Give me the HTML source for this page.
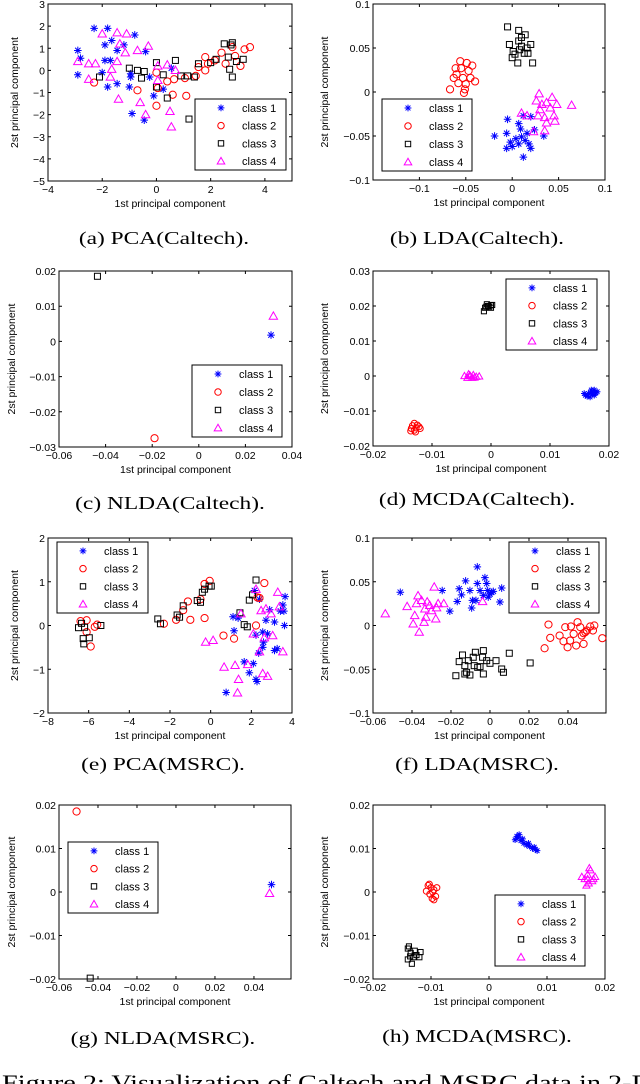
<!DOCTYPE html>
<html><head><meta charset="utf-8">
<style>
html,body{margin:0;padding:0;background:#fff;}
svg{display:block;}
</style></head>
<body>
<svg id="fig" width="640" height="1084" viewBox="0 0 640 1084" xmlns="http://www.w3.org/2000/svg" font-family="Liberation Sans, sans-serif">
<rect width="640" height="1084" fill="#fff"/>
<text x="2" y="1090" font-family="Liberation Serif, serif" font-size="22" textLength="650" lengthAdjust="spacingAndGlyphs">Figure 2: Visualization of Caltech and MSRC data in 2-D</text>
</svg>
<script>
// ---------- data ----------
const classNames = ["class 1","class 2","class 3","class 4"];
const classColors = ["#0000ff","#ff0000","#000000","#ff00ff"];
const classMarkers = ["star","circle","square","triangle"];

const pcaCaltechClass1 = [[-2.3,1.9],[-1.8,1.9],[-2.9,0.9],[-2.8,0.55],[-2.9,-0.2],[-1.9,1.15],[-1.65,1.35],[-1.45,0.9],[-1.2,1.15],[-0.8,1.6],[-1.9,0.45],[-1.7,0.45],[-2.0,-0.1],[-1.8,-0.75],[-1.45,-0.6],[-0.95,-0.15],[-0.95,-0.3],[-1.0,-0.75],[-0.9,-1.95],[-0.45,-2.25],[-0.4,0.85],[-0.25,-0.3],[-0.1,-1.15],[0.25,-0.85],[0.55,0.1]];
const pcaCaltechClass2 = [[-2.3,-0.55],[-0.7,-0.9],[0,-1.6],[0,-0.1],[0.4,-0.5],[0.6,-1.1],[0.65,-0.4],[1.1,-1.15],[1.05,-0.35],[1.45,-0.25],[1.55,0.15],[1.8,0.6],[1.9,0.3],[2.15,0.45],[2.4,0.8],[2.55,0.3],[2.9,0.65],[3.1,0.2],[3.25,0.95],[3.45,1.05],[2.8,1.05],[1.8,0],[0.05,-0.8]];
const pcaCaltechClass3 = [[-2.1,-0.3],[-1.0,0.1],[-0.7,0],[-0.45,-0.05],[0,0.35],[0,-0.75],[0.25,-0.2],[0.4,-1.25],[0.7,0.45],[0.9,-0.25],[1.15,-0.25],[1.4,-0.3],[1.2,-2.2],[1.55,0.3],[2.0,0.35],[2.2,0.5],[2.5,1.2],[2.75,1.15],[2.8,1.25],[2.65,0.6],[2.7,0.05],[2.8,-0.3],[2.95,0.4],[3.2,0.5],[-0.55,-0.35]];
const pcaCaltechClass4 = [[-2.9,0.4],[-2.5,0.3],[-2.25,0.3],[-2.5,-0.4],[-2.0,1.65],[-1.45,1.7],[-1.1,1.65],[-1.35,1.2],[-1.15,0.8],[-1.45,0.4],[-1.65,0.05],[-1.7,-0.3],[-1.4,-1.3],[-0.7,0.9],[-0.3,1.1],[-0.6,-1.45],[-0.4,-2.0],[0.05,0.2],[0.05,-0.45],[0.4,0.25],[0.5,-1.85],[0.55,-2.55],[0.7,0]];

const ldaCaltechClass1 = [[-0.019,-0.05],[-0.005,-0.031],[0.007,-0.036],[0.012,-0.027],[0.02,-0.028],[0.024,-0.043],[0.034,-0.05],[-0.006,-0.047],[-0.002,-0.057],[0.0,-0.062],[0.007,-0.059],[0.01,-0.051],[0.014,-0.055],[0.018,-0.059],[0.02,-0.064],[0.012,-0.074],[0.009,-0.042],[0.004,-0.053],[0.016,-0.047],[-0.006,-0.064]];
const ldaCaltechClass2 = [[-0.067,0.003],[-0.061,0.027],[-0.056,0.035],[-0.049,0.033],[-0.06,0.02],[-0.053,0.016],[-0.047,0.024],[-0.04,0.012],[-0.051,0.003],[-0.052,-0.001],[-0.058,0.01],[-0.045,0.016],[-0.055,0.027],[-0.063,0.016],[-0.043,0.03],[-0.05,0.009]];
const ldaCaltechClass3 = [[-0.005,0.074],[0.007,0.07],[0.014,0.065],[-0.003,0.054],[0.001,0.046],[0.007,0.058],[0.01,0.052],[0.016,0.05],[0.02,0.054],[0.0,0.039],[0.006,0.033],[0.022,0.033],[0.013,0.044],[0.008,0.048],[0.003,0.043],[0.017,0.044],[0.01,0.062]];
const ldaCaltechClass4 = [[0.029,-0.002],[0.026,-0.01],[0.032,-0.014],[0.037,-0.012],[0.043,-0.006],[0.048,-0.014],[0.064,-0.015],[0.01,-0.024],[0.016,-0.027],[0.028,-0.027],[0.035,-0.029],[0.045,-0.027],[0.046,-0.033],[0.037,-0.035],[0.023,-0.045],[0.035,-0.044],[0.03,-0.02],[0.041,-0.018]];

const nldaCaltechClass1 = [[0.031,0.0018]];
const nldaCaltechClass2 = [[-0.019,-0.0275]];
const nldaCaltechClass3 = [[-0.0435,0.0185]];
const nldaCaltechClass4 = [[0.032,0.0072]];

const mcdaCaltechClass1 = [[0.016,-0.0055],[0.0165,-0.005],[0.017,-0.0045],[0.0175,-0.004],[0.018,-0.0045],[0.0168,-0.006],[0.0172,-0.0052],[0.0163,-0.0058],[0.0178,-0.0048],[0.017,-0.004],[0.0158,-0.005],[0.0175,-0.0055]];
const mcdaCaltechClass2 = [[-0.013,-0.0135],[-0.0125,-0.014],[-0.0135,-0.015],[-0.012,-0.015],[-0.013,-0.0155],[-0.0128,-0.016],[-0.0122,-0.0145],[-0.0133,-0.0142],[-0.0127,-0.0148],[-0.0136,-0.0157]];
const mcdaCaltechClass3 = [[-0.001,0.0195],[-0.0005,0.02],[0,0.0202],[-0.0007,0.0205],[-0.0012,0.0185],[0,0.0195],[-0.0003,0.0198],[-0.0008,0.0198],[0.0002,0.0203]];
const mcdaCaltechClass4 = [[-0.004,-0.0005],[-0.0035,0],[-0.003,0.0003],[-0.0025,-0.0002],[-0.0038,0.0005],[-0.0032,-0.0005],[-0.0045,0],[-0.002,-0.0001],[-0.0028,-0.0004],[-0.0036,0.0002]];

const pcaMsrcClass1 = [[0.76,-1.53],[1.1,0.2],[1.15,-0.12],[1.35,0.17],[1.65,-0.83],[2.1,-0.87],[1.9,-1.08],[2.23,-1.23],[2.28,-1.28],[2.15,0.8],[2.4,0.6],[2.23,-0.22],[2.56,-0.15],[2.72,0.12],[2.8,-0.19],[2.6,-0.38],[2.56,-0.5],[2.36,-0.63],[2.9,0.36],[3.14,0.08],[3.27,-0.53],[3.43,0.33],[3.6,0.33],[3.55,0.47],[3.66,0.66],[3.63,0],[3.14,-0.57]];
const pcaMsrcClass2 = [[-6.4,0.1],[-6.1,0.12],[-6.1,-0.15],[-5.9,-0.48],[-5.7,-0.03],[-5.58,0.02],[-2.3,0.04],[-1.7,0.13],[-1.35,0.35],[-1.12,0.55],[-1.0,0.13],[-0.3,0.17],[-0.5,0.6],[-0.3,0.95],[-0.05,1.02],[0.63,-0.23],[1.15,-0.3],[2.23,0],[2.64,0.97],[2.3,0.64],[2.4,0.63]];
const pcaMsrcClass3 = [[-6.35,0.05],[-6.5,-0.05],[-6.2,-0.04],[-6.27,-0.3],[-5.97,-0.28],[-6.24,-0.42],[-5.4,0],[-2.6,0.15],[-2.47,0.04],[-1.65,0.24],[-1.53,0.19],[-1.35,0.45],[-0.66,0.57],[-0.5,0.53],[-0.41,0.76],[-0.3,0.83],[-0.08,0.9],[0.03,0.9],[2.23,1.04],[1.9,0.58],[2.06,0.7],[1.44,0.29],[1.65,0.02],[1.8,-0.03]];
const pcaMsrcClass4 = [[-0.25,-0.38],[0.12,-0.34],[0.66,-0.95],[1.2,-0.91],[1.37,-1.23],[1.32,-1.54],[1.82,-0.89],[1.49,0.27],[2.1,-0.19],[2.4,-0.6],[2.56,-1.1],[2.8,-1.16],[2.48,0.34],[2.72,0.38],[2.97,0.27],[3.05,-0.23],[3.3,0.76],[3.55,-0.6],[3.38,0.43],[2.64,-0.28],[2.23,0.83]];

const ldaMsrcClass1 = [[-0.046,0.038],[-0.0245,0.04],[-0.0206,0.0164],[-0.0168,0.0275],[-0.0158,0.042],[-0.0146,0.035],[-0.0125,0.051],[-0.0103,0.04],[-0.0094,0.02],[-0.009,0.0287],[-0.0072,0.0287],[-0.0065,0.048],[-0.0065,0.067],[-0.0051,0.04],[-0.0034,0.0344],[-0.0026,0.0547],[-0.0017,0.048],[-0.0012,0.04],[0,0.036],[0.0009,0.038],[0.0017,0.039],[0.0051,0.0268],[0.006,0.0428],[-0.0009,0.0325]];
const ldaMsrcClass2 = [[0.028,-0.026],[0.03,0.0011],[0.0309,-0.0141],[0.0357,-0.0115],[0.0377,-0.018],[0.0386,-0.0019],[0.0398,-0.0249],[0.0415,-0.0011],[0.0429,-0.0096],[0.0442,-0.0229],[0.0449,0.0038],[0.0463,-0.0019],[0.0471,-0.0115],[0.048,-0.021],[0.0489,-0.0076],[0.0497,-0.0057],[0.0514,-0.0011],[0.0528,-0.0057],[0.0535,0],[0.0576,-0.0145],[0.048,-0.0088],[0.0411,-0.0172]];
const ldaMsrcClass3 = [[-0.0175,-0.0574],[-0.0158,-0.0413],[-0.0141,-0.0337],[-0.0129,-0.0459],[-0.012,-0.0535],[-0.0111,-0.0402],[-0.0103,-0.0566],[-0.0086,-0.0363],[-0.0081,-0.0459],[-0.0075,-0.0306],[-0.0063,-0.0478],[-0.0051,-0.047],[-0.0038,-0.0363],[-0.0034,-0.0287],[-0.0034,-0.0554],[-0.0017,-0.0402],[0,-0.0432],[0.0031,-0.0402],[0.006,-0.0497],[0.0069,-0.0535],[0.0099,-0.0317],[0.0206,-0.0428],[-0.0129,-0.0554]];
const ldaMsrcClass4 = [[-0.0537,0.0134],[-0.0425,0.0218],[-0.0394,0.0019],[-0.0386,0.0115],[-0.0369,0.034],[-0.0363,-0.0076],[-0.0377,0.025],[-0.0351,0.0287],[-0.0334,0.019],[-0.0329,0.0096],[-0.0338,0.0038],[-0.0322,0.027],[-0.03,0.017],[-0.0286,0.044],[-0.0278,0.0076],[-0.0274,0.0203],[-0.0266,0.025],[-0.0237,0.025],[-0.0038,0.0275],[-0.0309,0.023]];

const nldaMsrcClass1 = [[0.049,0.0017]];
const nldaMsrcClass2 = [[-0.051,0.0185]];
const nldaMsrcClass3 = [[-0.044,-0.0198]];
const nldaMsrcClass4 = [[0.048,-0.0003]];

const mcdaMsrcClass1 = [[0.0045,0.012],[0.005,0.0125],[0.0052,0.0132],[0.0055,0.0118],[0.006,0.0112],[0.0058,0.0122],[0.0065,0.0108],[0.007,0.0105],[0.0075,0.01],[0.008,0.0098],[0.0083,0.0095],[0.0078,0.0103],[0.0048,0.0128],[0.0068,0.0112]];
const mcdaMsrcClass2 = [[-0.0105,0.0015],[-0.01,0.001],[-0.0095,0.0005],[-0.0102,-0.0005],[-0.0098,-0.0015],[-0.009,0.001],[-0.0108,0.0002],[-0.0097,0],[-0.0092,-0.001],[-0.0103,0.0018],[-0.0095,-0.0018]];
const mcdaMsrcClass3 = [[-0.014,-0.013],[-0.0138,-0.0125],[-0.0135,-0.014],[-0.014,-0.0155],[-0.0133,-0.0165],[-0.013,-0.015],[-0.0125,-0.0145],[-0.012,-0.015],[-0.0118,-0.0138],[-0.0128,-0.0135],[-0.0136,-0.0148]];
const mcdaMsrcClass4 = [[0.0165,0.003],[0.017,0.004],[0.0175,0.005],[0.018,0.003],[0.0172,0.002],[0.0168,0.0015],[0.0178,0.0025],[0.016,0.0035],[0.0173,0.0055],[0.0183,0.0035],[0.017,0.003]];

const ticksPcaCaltechX = [-4,-2,0,2,4];
const ticksPcaCaltechY = [-5,-4,-3,-2,-1,0,1,2,3];
const ticksLdaCaltechX = [-0.1,-0.05,0,0.05,0.1];
const ticksLdaCaltechY = [-0.1,-0.05,0,0.05,0.1];
const ticksNldaCaltechX = [-0.06,-0.04,-0.02,0,0.02,0.04];
const ticksNldaCaltechY = [-0.03,-0.02,-0.01,0,0.01,0.02];
const ticksMcdaCaltechX = [-0.02,-0.01,0,0.01,0.02];
const ticksMcdaCaltechY = [-0.02,-0.01,0,0.01,0.02,0.03];
const ticksPcaMsrcX = [-8,-6,-4,-2,0,2,4];
const ticksPcaMsrcY = [-2,-1,0,1,2];
const ticksLdaMsrcX = [-0.06,-0.04,-0.02,0,0.02,0.04];
const ticksLdaMsrcY = [-0.1,-0.05,0,0.05,0.1];
const ticksNldaMsrcX = [-0.06,-0.04,-0.02,0,0.02,0.04];
const ticksNldaMsrcY = [-0.02,-0.01,0,0.01,0.02];
const ticksMcdaMsrcX = [-0.02,-0.01,0,0.01,0.02];
const ticksMcdaMsrcY = [-0.02,-0.01,0,0.01,0.02];

// ---------- layout ----------
const panels = [
 {id:"pca-caltech",cap:"(a) PCA(Caltech).",capX:164,capY:244,box:[48,4,292,181],xl:[-4,5],yl:[-5,3],xt:ticksPcaCaltechX,yt:ticksPcaCaltechY,yo:30,leg:[195,99,286,170],ms:1,data:[pcaCaltechClass1,pcaCaltechClass2,pcaCaltechClass3,pcaCaltechClass4]},
 {id:"lda-caltech",cap:"(b) LDA(Caltech).",capX:477,capY:244,box:[373,4,605,180],xl:[-0.15,0.1],yl:[-0.1,0.1],xt:ticksLdaCaltechX,yt:ticksLdaCaltechY,yo:45,leg:[382,99,472,171],ms:1,data:[ldaCaltechClass1,ldaCaltechClass2,ldaCaltechClass3,ldaCaltechClass4]},
 {id:"nlda-caltech",cap:"(c) NLDA(Caltech).",capX:170,capY:509,box:[59,271,292,447],xl:[-0.06,0.04],yl:[-0.03,0.02],xt:ticksNldaCaltechX,yt:ticksNldaCaltechY,yo:44,leg:[192,365,282,437],ms:1,data:[nldaCaltechClass1,nldaCaltechClass2,nldaCaltechClass3,nldaCaltechClass4]},
 {id:"mcda-caltech",cap:"(d) MCDA(Caltech).",capX:477,capY:505,box:[373,271,609,446],xl:[-0.02,0.02],yl:[-0.02,0.03],xt:ticksMcdaCaltechX,yt:ticksMcdaCaltechY,yo:45,leg:[506,279,597,350],ms:0.85,data:[mcdaCaltechClass1,mcdaCaltechClass2,mcdaCaltechClass3,mcdaCaltechClass4]},
 {id:"pca-msrc",cap:"(e) PCA(MSRC).",capX:163,capY:770,box:[48,538,292,713],xl:[-8,4],yl:[-2,2],xt:ticksPcaMsrcX,yt:ticksPcaMsrcY,yo:30,leg:[57,542,148,613],ms:1,data:[pcaMsrcClass1,pcaMsrcClass2,pcaMsrcClass3,pcaMsrcClass4]},
 {id:"lda-msrc",cap:"(f) LDA(MSRC).",capX:477,capY:770,box:[373,538,606,713],xl:[-0.06,0.0595],yl:[-0.1,0.1],xt:ticksLdaMsrcX,yt:ticksLdaMsrcY,yo:45,leg:[509,542,599,613],ms:1,data:[ldaMsrcClass1,ldaMsrcClass2,ldaMsrcClass3,ldaMsrcClass4]},
 {id:"nlda-msrc",cap:"(g) NLDA(MSRC).",capX:163,capY:1044,box:[59,805,291,979],xl:[-0.06,0.059],yl:[-0.02,0.02],xt:ticksNldaMsrcX,yt:ticksNldaMsrcY,yo:44,leg:[68,842,158,913],ms:1,data:[nldaMsrcClass1,nldaMsrcClass2,nldaMsrcClass3,nldaMsrcClass4]},
 {id:"mcda-msrc",cap:"(h) MCDA(MSRC).",capX:477,capY:1042,box:[373,805,605,979],xl:[-0.02,0.02],yl:[-0.02,0.02],xt:ticksMcdaMsrcX,yt:ticksMcdaMsrcY,yo:45,leg:[495,895,585,966],ms:0.85,data:[mcdaMsrcClass1,mcdaMsrcClass2,mcdaMsrcClass3,mcdaMsrcClass4]}
];

const NS="http://www.w3.org/2000/svg";
const svg=document.getElementById("fig");
function mk(tag,attrs,parent){const e=document.createElementNS(NS,tag);for(const k in attrs)e.setAttribute(k,attrs[k]);(parent||svg).appendChild(e);return e;}
function fmt(v){let s=String(Math.round(v*10000)/10000);return v<0?s.replace("-","\u2212"):s;}

function marker(g,kind,cx,cy,col,s){
  let e;
  if(kind==="star"){
    const r=3.8*s,d=2.7*s;
    e=mk("path",{d:`M${cx-r},${cy}H${cx+r}M${cx},${cy-r}V${cy+r}M${cx-d},${cy-d}L${cx+d},${cy+d}M${cx-d},${cy+d}L${cx+d},${cy-d}`,stroke:col,"stroke-width":1,fill:"none"},g);
  }else if(kind==="circle"){
    e=mk("circle",{cx:cx,cy:cy,r:3.6*s,stroke:col,"stroke-width":1,fill:"none"},g);
  }else if(kind==="square"){
    const h=3*s;
    e=mk("rect",{x:cx-h,y:cy-h,width:2*h,height:2*h,stroke:col,"stroke-width":1,fill:"none"},g);
  }else{
    const h=4.2*s;
    e=mk("path",{d:`M${cx},${cy-h}L${cx+h},${cy+h*0.75}L${cx-h},${cy+h*0.75}Z`,stroke:col,"stroke-width":1,fill:"none"},g);
  }
  return e;
}

const captionEls=[];
panels.forEach(p=>{
  const [x0,y0,x1,y1]=p.box;
  const sx=v=>x0+(v-p.xl[0])/(p.xl[1]-p.xl[0])*(x1-x0);
  const sy=v=>y1-(v-p.yl[0])/(p.yl[1]-p.yl[0])*(y1-y0);
  const g=mk("g",{});
  
  
  const frame=mk("rect",{x:x0,y:y0,width:x1-x0,height:y1-y0,fill:"none",stroke:"#000","stroke-width":1},g);
  
  
  p.xt.forEach(v=>{
    const x=sx(v);
    mk("path",{d:`M${x},${y1}v-3M${x},${y0}v3`,stroke:"#000","stroke-width":1},g);
    const t=mk("text",{x:x,y:y1+12,"font-size":10.5,"text-anchor":"middle",fill:"#000"},g);
    t.textContent=fmt(v);
    
    
  });
  p.yt.forEach(v=>{
    const y=sy(v);
    mk("path",{d:`M${x0},${y}h3M${x1},${y}h-3`,stroke:"#000","stroke-width":1},g);
    const t=mk("text",{x:x0-3,y:y+4,"font-size":10.5,"text-anchor":"end",fill:"#000"},g);
    t.textContent=fmt(v);
    
    
  });
  const xlab=mk("text",{x:(x0+x1)/2,y:y1+26,"font-size":10.5,"text-anchor":"middle"},g);
  xlab.textContent="1st principal component";
  
  
  const yc=(y0+y1)/2, yx=x0-p.yo;
  const ylab=mk("text",{x:yx,y:yc,"font-size":10.5,"text-anchor":"middle",transform:`rotate(-90 ${yx} ${yc})`},g);
  ylab.textContent="2st principal component";
  
  
  p.data.forEach((pts,ci)=>{
    const sg=mk("g",{},g);
    
    
    pts.forEach(pt=>{
      const m=marker(sg,classMarkers[ci],sx(pt[0]),sy(pt[1]),classColors[ci],p.ms);
      
      
    });
  });
  const [lx0,ly0,lx1,ly1]=p.leg;
  const lg=mk("g",{},g);
  
  
  mk("rect",{x:lx0,y:ly0,width:lx1-lx0,height:ly1-ly0,fill:"#fff",stroke:"#000","stroke-width":1},lg);
  const step=(ly1-ly0)/4;
  classNames.forEach((n,ci)=>{
    const cy=ly0+step*(ci+0.5);
    const e=mk("g",{},lg);
    
    
    marker(e,classMarkers[ci],lx0+26,cy,classColors[ci],0.9);
    const t=mk("text",{x:lx0+47,y:cy+4,"font-size":11},e);
    t.textContent=n;
  });
  const cap=mk("text",{x:p.capX,y:p.capY,"font-size":18,"text-anchor":"middle","font-family":"Liberation Serif, serif"},g);
  cap.textContent=p.cap;
  
  
  captionEls.push(cap);
});
captionEls.forEach(c=>{
  const w=c.getComputedTextLength();
  c.setAttribute("textLength", (w*1.3).toFixed(1));
  c.setAttribute("lengthAdjust","spacingAndGlyphs");
});
</script>
</body></html>
